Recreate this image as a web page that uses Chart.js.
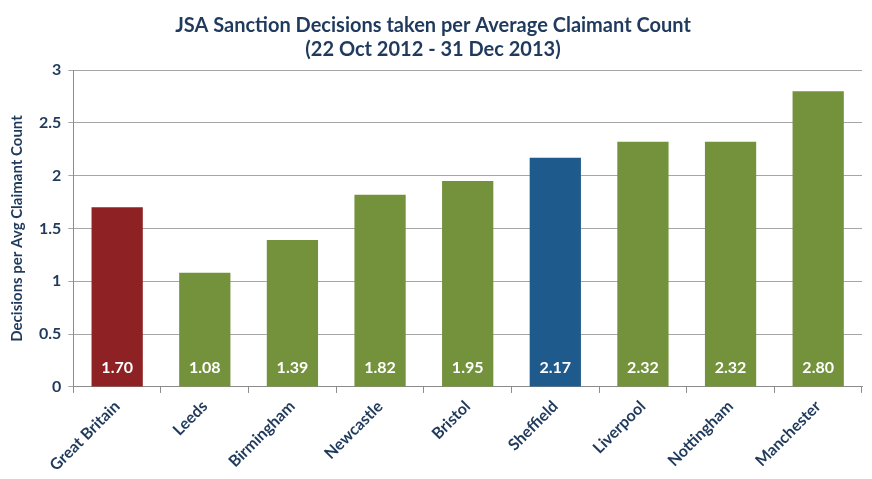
<!DOCTYPE html>
<html>
<head>
<meta charset="utf-8">
<script src="https://cdn.jsdelivr.net/npm/chart.js@4"></script>
<style>
  body { margin: 0; background: #fff; }
  #wrap { width: 872px; height: 479px; }
</style>
</head>
<body>
<div id="wrap"><canvas id="sanctionChart" width="872" height="479"></canvas></div>
<script>
const areas = ["Great Britain", "Leeds", "Birmingham", "Newcastle", "Bristol", "Sheffield", "Liverpool", "Nottingham", "Manchester"];
const decisions = [1.70, 1.08, 1.39, 1.82, 1.95, 2.17, 2.32, 2.32, 2.80];
const barColors = ["#8e2123", "#74923c", "#74923c", "#74923c", "#74923c", "#1f5a8c", "#74923c", "#74923c", "#74923c"];
const titleLines = ["JSA Sanction Decisions taken per Average Claimant Count", "(22 Oct 2012 - 31 Dec 2013)"];
const yAxisTitle = "Decisions per Avg Claimant Count";

const navy = "#1f3a5c";
const fontFamily = "Lato, 'Open Sans', sans-serif";

// white value labels sitting at the foot of each bar
const valueLabels = {
    id: "valueLabels",
    afterDatasetsDraw(chart) {
        const ctx = chart.ctx;
        const meta = chart.getDatasetMeta(0);
        const yBase = chart.scales.y.getPixelForValue(0);
        ctx.save();
        ctx.fillStyle = "#ffffff";
        ctx.font = "bold 16px " + fontFamily;
        ctx.textAlign = "center";
        ctx.textBaseline = "middle";
        meta.data.forEach((bar, i) => {
            ctx.fillText(decisions[i].toFixed(2), bar.x, yBase - 19);
        });
        ctx.restore();
    }
};

new Chart(document.getElementById("sanctionChart"), {
    type: "bar",
    data: {
        labels: areas,
        datasets: [{
            data: decisions,
            backgroundColor: barColors,
            borderWidth: 0,
            categoryPercentage: 1,
            barPercentage: 0.585
        }]
    },
    options: {
        responsive: false,
        animation: false,
        layout: { padding: { left: 4, right: 10, top: 0, bottom: 0 } },
        plugins: {
            legend: { display: false },
            tooltip: { enabled: false },
            title: {
                display: true,
                text: titleLines,
                color: navy,
                font: { family: fontFamily, size: 20, weight: "bold", lineHeight: 1.2 },
                padding: { top: 14, bottom: 8 }
            }
        },
        scales: {
            x: {
                offset: true,
                grid: {
                    offset: true,
                    drawOnChartArea: false,
                    color: "#8c8c8c",
                    tickLength: 6
                },
                border: { color: "#8c8c8c" },
                ticks: {
                    color: navy,
                    font: { family: fontFamily, size: 16, weight: "bold" },
                    minRotation: 45,
                    maxRotation: 45,
                    padding: 4
                }
            },
            y: {
                min: 0,
                max: 3,
                ticks: {
                    stepSize: 0.5,
                    color: navy,
                    font: { family: fontFamily, size: 16, weight: "bold" },
                    padding: 7,
                    callback: v => String(v)
                },
                grid: { color: "#a6a6a6", tickLength: 5 },
                border: { color: "#8c8c8c" },
                title: {
                    display: true,
                    text: yAxisTitle,
                    color: navy,
                    font: { family: fontFamily, size: 15, weight: "bold" },
                    padding: { bottom: 6 }
                }
            }
        }
    },
    plugins: [valueLabels]
});
</script>
</body>
</html>
